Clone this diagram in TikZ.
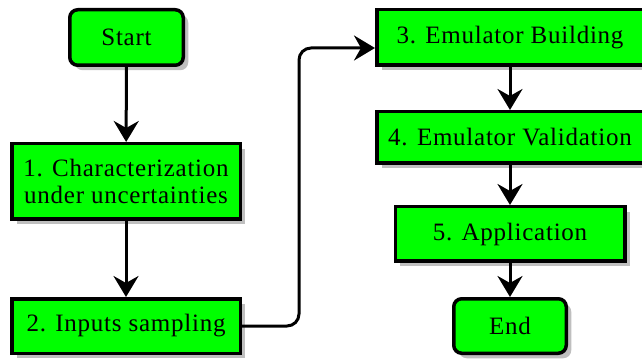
\documentclass[tikz,border=0pt]{standalone}
\usepackage{fontspec}
\setmainfont[LetterSpace=3]{Liberation Serif}
\usetikzlibrary{shadows,arrows.meta,positioning}
\definecolor{boxgreen}{RGB}{0,255,0}
\tikzset{
  flowbox/.style={draw=black, fill=boxgreen, line width=3.5pt, inner sep=0pt,
    align=center, font=\fontsize{25}{27.5}\selectfont,
    drop shadow={shadow xshift=5pt, shadow yshift=-5pt, fill=black!25, opacity=1}},
  termbox/.style={flowbox, rounded corners=8pt},
  flowarrow/.style={line width=3pt, -{Stealth[length=21pt,width=25pt,inset=7pt]}}
}
\begin{document}
\begin{tikzpicture}[x=1pt,y=-1pt]
\useasboundingbox (0,0) rectangle (642,363);
\node[termbox, minimum width=113.5pt, minimum height=55.5pt] (start) at (126.5,37.5) {Start};
\node[flowbox, minimum width=228.5pt, minimum height=75.5pt] (b1) at (126,181.5) {1. Characterization\\under uncertainties};
\node[flowbox, minimum width=228.5pt, minimum height=54.5pt] (b2) at (126,326) {2. Inputs sampling};
\node[flowbox, minimum width=266.5pt, minimum height=55.5pt] (b3) at (510,37.5) {3. Emulator Building};
\node[flowbox, minimum width=266.5pt, minimum height=51.5pt] (b4) at (510,137.5) {4. Emulator Validation};
\node[flowbox, minimum width=229.5pt, minimum height=54.5pt] (b5) at (510,234) {5. Application};
\node[termbox, minimum width=112.5pt, minimum height=54.5pt] (end) at (510,326) {End};
\draw[flowarrow] (start) -- (b1);
\draw[flowarrow] (b1) -- (b2);
\draw[flowarrow, rounded corners=12pt] (b2.east) -- ++(57,0) |- ([yshift=-10.5pt]b3.west);
\draw[flowarrow] (b3) -- (b4);
\draw[flowarrow] (b4) -- (b5);
\draw[flowarrow] (b5) -- (end);
\end{tikzpicture}
\end{document}
